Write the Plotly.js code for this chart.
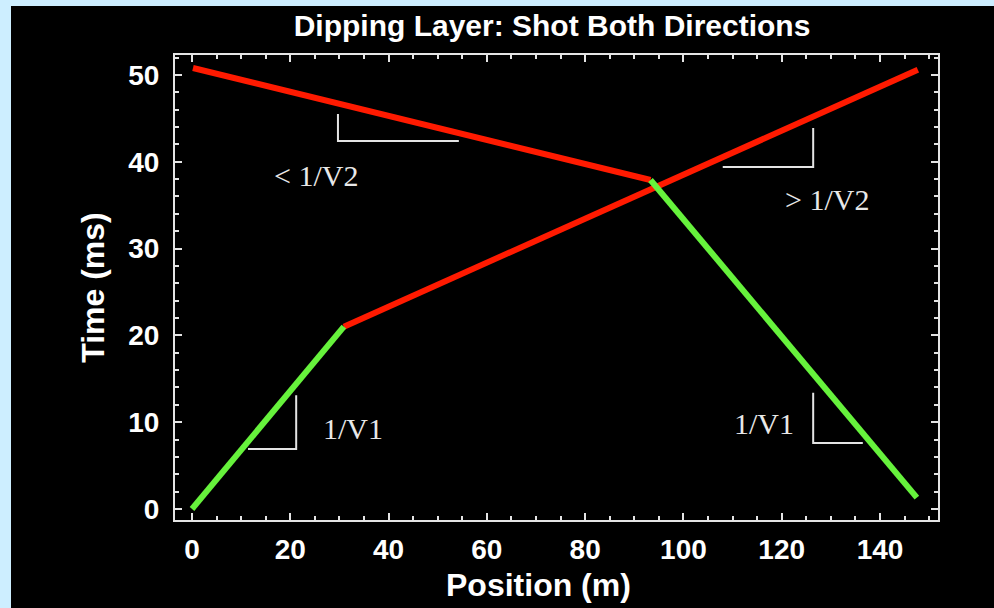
<!DOCTYPE html>
<html>
<head>
<meta charset="utf-8">
<script src="https://cdn.plot.ly/plotly-3.0.1.min.js"></script>
<style>
  html, body { margin: 0; padding: 0; background: #cdeeff; width: 994px; height: 608px; overflow: hidden; }
  #chart { position: absolute; left: 11px; top: 6px; width: 983px; height: 602px; }
</style>
</head>
<body>
<div id="chart"></div>
<script>
// Shot at left end (x = 0): direct wave then head wave
const fwdDirectX = [0, 30.9];
const fwdDirectT = [0, 21.0];
const fwdHeadX = [30.9, 147.7];
const fwdHeadT = [21.0, 50.6];
// Shot at right end: direct wave then head wave
const revDirectX = [93.3, 147.5];
const revDirectT = [37.9, 1.3];
const revHeadX = [0.2, 93.3];
const revHeadT = [50.8, 37.9];

// Slope triangles
const tri1X = [29.7, 29.7, 54.3];
const tri1T = [45.5, 42.4, 42.4];
const tri2X = [108.0, 126.4, 126.4];
const tri2T = [39.4, 39.4, 43.9];
const tri3X = [11.4, 21.2, 21.2];
const tri3T = [6.9, 6.9, 13.1];
const tri4X = [126.4, 126.4, 136.5];
const tri4T = [13.4, 7.6, 7.6];

// Slope labels
const labelText = ["< 1/V2", "> 1/V2", "1/V1", "1/V1"];
const labelX = [25.2, 129.2, 32.8, 116.4];
const labelT = [38.4, 35.7, 9.3, 9.8];

const xTickVals = [0, 20, 40, 60, 80, 100, 120, 140];
const yTickVals = [0, 10, 20, 30, 40, 50];

const RED = '#ff1a00';
const GREEN = '#66f23c';
const GREY = '#e4e4e4';

function line(x, y, color, width) {
  return { x: x, y: y, type: 'scatter', mode: 'lines', hoverinfo: 'skip',
           line: { color: color, width: width }, showlegend: false };
}

const traces = [
  line(tri1X, tri1T, GREY, 2),
  line(tri2X, tri2T, GREY, 2),
  line(tri3X, tri3T, GREY, 2),
  line(tri4X, tri4T, GREY, 2),
  line(revHeadX, revHeadT, RED, 6),
  line(fwdHeadX, fwdHeadT, RED, 6),
  line(fwdDirectX, fwdDirectT, GREEN, 6),
  line(revDirectX, revDirectT, GREEN, 6)
];

const titleFont = { family: 'Liberation Sans, Arial, sans-serif', size: 32, color: '#ffffff', weight: 'bold' };
const tickFont = { family: 'Liberation Sans, Arial, sans-serif', size: 28, color: '#ffffff', weight: 'bold' };

const annotations = labelText.map((t, i) => ({
  x: labelX[i], y: labelT[i], xref: 'x', yref: 'y', text: t, showarrow: false,
  xanchor: 'center', yanchor: 'middle',
  font: { family: 'Liberation Serif, Times New Roman, serif', size: 30, color: '#e8e8e8' }
}));
annotations.push({
  x: 0.477, y: -0.14, xref: 'paper', yref: 'paper', text: 'Position (m)', showarrow: false,
  xanchor: 'center', yanchor: 'middle', font: titleFont
});

const layout = {
  width: 983, height: 602,
  paper_bgcolor: '#000000', plot_bgcolor: '#000000',
  margin: { l: 164, r: 56, t: 49, b: 88 },
  title: { text: 'Dipping Layer: Shot Both Directions', x: 0.5504, xref: 'container', xanchor: 'center',
           y: 0.968, yref: 'container', yanchor: 'middle',
           font: { family: 'Liberation Sans, Arial, sans-serif', size: 30, color: '#ffffff', weight: 'bold' } },
  xaxis: {
    range: [-3.46, 151.8], tickvals: xTickVals, ticktext: xTickVals.map(String),
    showgrid: false, zeroline: false, showline: true, linecolor: GREY, linewidth: 2, mirror: 'allticks',
    ticks: 'inside', ticklen: 7, tickwidth: 2, tickcolor: GREY,
    minor: { dtick: 5, ticks: 'inside', ticklen: 4, tickwidth: 2, tickcolor: GREY, showgrid: false },
    tickfont: tickFont, ticklabelstandoff: 3,
    automargin: false, fixedrange: true
  },
  yaxis: {
    range: [-1.27, 52.3], tickvals: yTickVals, ticktext: yTickVals.map(String),
    showgrid: false, zeroline: false, showline: true, linecolor: GREY, linewidth: 2, mirror: 'allticks',
    ticks: 'inside', ticklen: 7, tickwidth: 2, tickcolor: GREY,
    minor: { dtick: 2, ticks: 'inside', ticklen: 4, tickwidth: 2, tickcolor: GREY, showgrid: false },
    tickfont: tickFont, ticklabelstandoff: 8,
    title: { text: 'Time (ms)', font: titleFont, standoff: 14 },
    automargin: false, fixedrange: true
  },
  annotations: annotations
};

Plotly.newPlot('chart', traces, layout, { staticPlot: true, displayModeBar: false });
</script>
</body>
</html>
